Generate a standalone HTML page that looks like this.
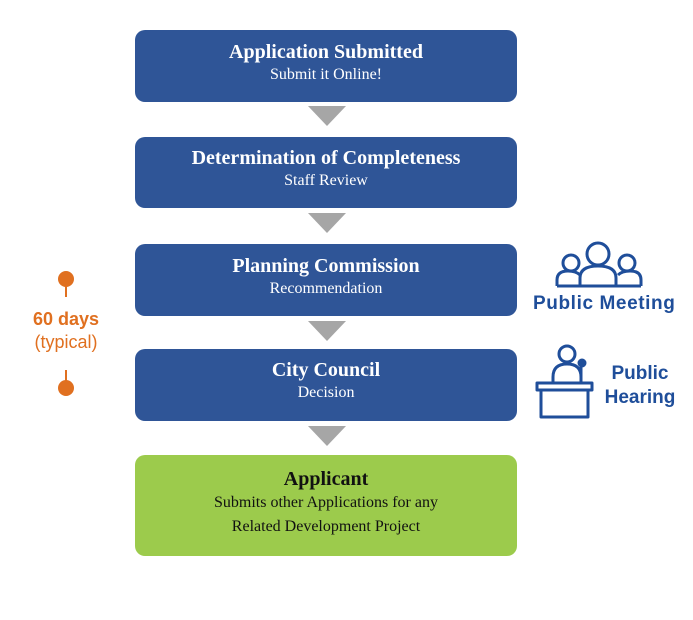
<!DOCTYPE html>
<html><head><style>
body{margin:0;width:693px;height:620px;background:#fff;position:relative;overflow:hidden;font-family:"Liberation Serif",serif}
.b{position:absolute;left:135px;width:382px;background:#2F5597;border-radius:10px;color:#fff;text-align:center;box-sizing:border-box}
.b .t{font-weight:bold;font-size:20px;line-height:24px}
.b .s{font-size:16px;line-height:22px}
.a{position:absolute;left:308px;width:0;height:0;border-left:19px solid transparent;border-right:19px solid transparent;border-top:20px solid #A6A6A6}
.o{position:absolute;color:#E07020;font-family:"Liberation Sans",sans-serif;text-align:center;width:100px;left:16px}
.bl{position:absolute;color:#1F4E9A;font-family:"Liberation Sans",sans-serif;font-weight:bold;font-size:19px}
</style></head><body>
<div class="b" style="top:30px;height:72px;padding-top:10px"><div class="t">Application Submitted</div><div class="s">Submit it Online!</div></div>
<div class="a" style="top:106px"></div>
<div class="b" style="top:137px;height:71px;padding-top:9px"><div class="t">Determination of Completeness</div><div class="s">Staff Review</div></div>
<div class="a" style="top:213px"></div>
<div class="b" style="top:244px;height:72px;padding-top:10px"><div class="t">Planning Commission</div><div class="s">Recommendation</div></div>
<div class="a" style="top:321px"></div>
<div class="b" style="top:349px;height:72px;padding-top:9px"><div class="t">City Council</div><div class="s">Decision</div></div>
<div class="a" style="top:426px"></div>
<div class="b" style="top:455px;height:101px;padding-top:12px;background:#9CCB4C;color:#111"><div class="t">Applicant</div><div class="s" style="line-height:24px">Submits other Applications for any<br>Related Development Project</div></div>

<svg style="position:absolute;left:0;top:0" width="693" height="620">
<g stroke="#E07020" stroke-width="2"><line x1="66" y1="279" x2="66" y2="297"/><line x1="66" y1="370" x2="66" y2="388"/></g>
<circle cx="66" cy="279" r="8" fill="#E07020"/><circle cx="66" cy="388" r="8" fill="#E07020"/>
<g fill="none" stroke="#1F4E9A" stroke-width="3" stroke-linejoin="round">
<circle cx="598" cy="254" r="11"/><circle cx="571" cy="263" r="8"/><circle cx="627" cy="263" r="8"/>
<path d="M580 286 v-8 q0-12 18-12 q18 0 18 12 v8 z"/>
<path d="M557 286 v-6 q0-9 11-9 q8 0 12 4"/><path d="M641 286 v-6 q0-9 -11-9 q-8 0 -12 4"/>
<line x1="557" y1="286" x2="641" y2="286"/>
<circle cx="567" cy="354" r="8"/>
<path d="M553 383 v-6 q0-13 14-13 q14 0 14 13 v6"/>
<line x1="581" y1="365" x2="581" y2="383"/><circle cx="582" cy="363" r="3" fill="#1F4E9A"/>
<rect x="537" y="383" width="55" height="7"/><path d="M541 390 v27 h47 v-27"/>
</g></svg>
<div class="o" style="top:309px;font-weight:bold;font-size:18px">60 days</div>
<div class="o" style="top:332px;font-size:18px">(typical)</div>
<div class="bl" style="left:533px;top:293px;letter-spacing:0.6px">Public Meeting</div>
<div class="bl" style="left:600px;top:362px;text-align:center;width:80px;line-height:24px">Public<br>Hearing</div>
</body></html>
